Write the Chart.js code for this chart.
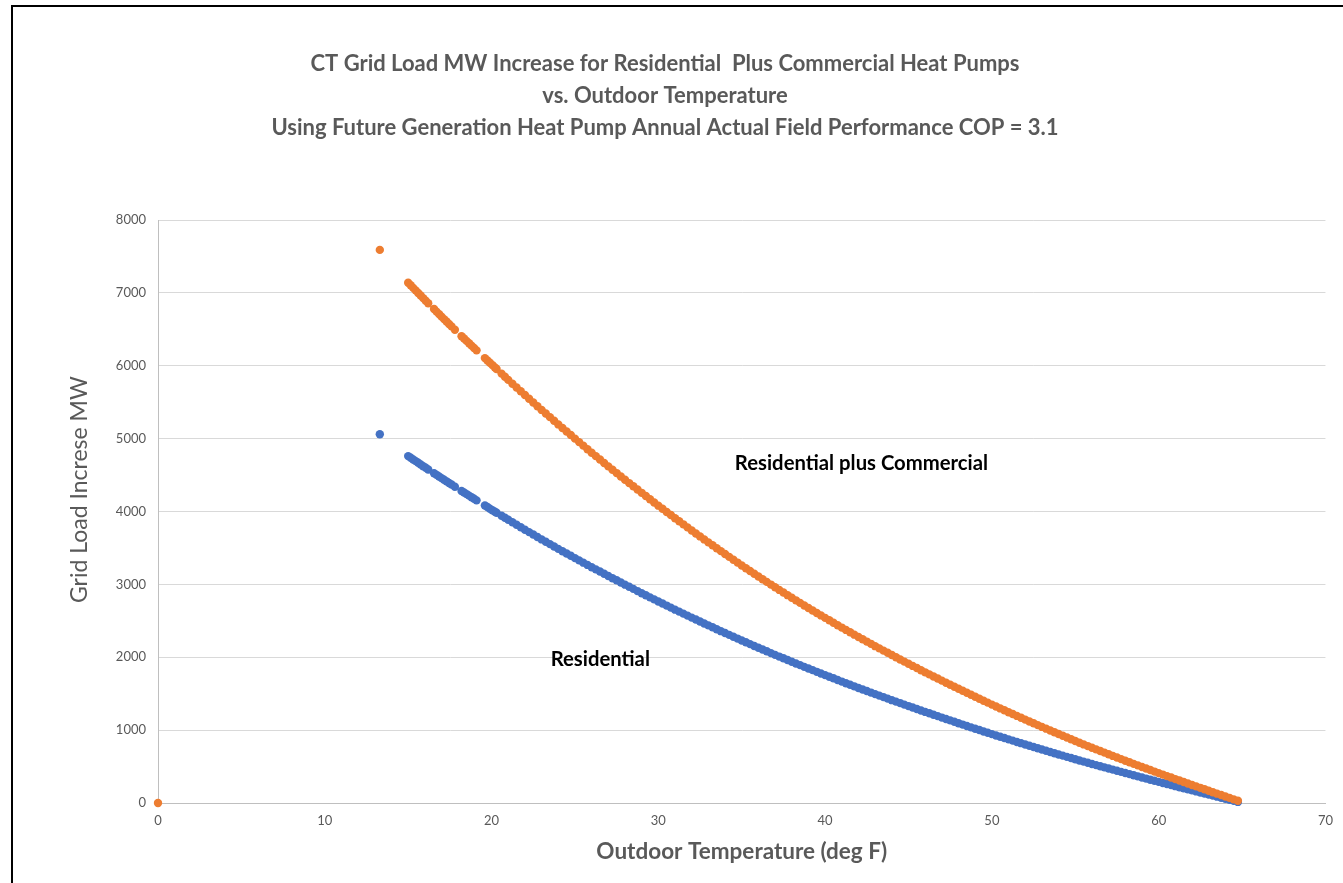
<!DOCTYPE html>
<html>
<head>
<meta charset="utf-8">
<title>CT Grid Load MW Increase vs Outdoor Temperature</title>
<script src="https://cdn.jsdelivr.net/npm/chart.js@4.4.1/dist/chart.umd.min.js"></script>
<style>
  html, body { margin: 0; padding: 0; background: #fff; overflow: hidden; }
  #frame { position: absolute; left: 11px; top: 5px; width: 1400px; height: 940px; border: 2px solid #000; }
  #wrap { position: absolute; left: 0; top: 0; width: 1343px; height: 883px; }
</style>
</head>
<body>
<div id="frame"></div>
<div id="wrap"><canvas id="chart"></canvas></div>
<script>
// Outdoor temperature (deg F) of each hourly reading, shared by both series
const temps = [13.3,
    15, 15.15, 15.3, 15.45, 15.6, 15.75, 15.9, 16.05, 16.2,
    16.55, 16.7, 16.85, 17, 17.15, 17.3, 17.45, 17.6, 17.8,
    18.2, 18.35, 18.5, 18.65, 18.8, 18.95, 19.1,
    19.6, 19.75, 19.9, 20.05, 20.2, 20.3,
    20.6, 20.8,
    21, 21.25, 21.5, 21.75, 22, 22.25, 22.5, 22.75, 23, 23.25, 23.5, 23.75,
    24, 24.25, 24.5, 24.75, 25, 25.25, 25.5, 25.75, 26, 26.25, 26.5, 26.75,
    27, 27.25, 27.5, 27.75, 28, 28.25, 28.5, 28.75, 29, 29.25, 29.5, 29.75,
    30, 30.25, 30.5, 30.75, 31, 31.25, 31.5, 31.75, 32, 32.25, 32.5, 32.75,
    33, 33.25, 33.5, 33.75, 34, 34.25, 34.5, 34.75, 35, 35.25, 35.5, 35.75,
    36, 36.25, 36.5, 36.75, 37, 37.25, 37.5, 37.75, 38, 38.25, 38.5, 38.75,
    39, 39.25, 39.5, 39.75, 40, 40.25, 40.5, 40.75, 41, 41.25, 41.5, 41.75,
    42, 42.25, 42.5, 42.75, 43, 43.25, 43.5, 43.75, 44, 44.25, 44.5, 44.75,
    45, 45.25, 45.5, 45.75, 46, 46.25, 46.5, 46.75, 47, 47.25, 47.5, 47.75,
    48, 48.25, 48.5, 48.75, 49, 49.25, 49.5, 49.75, 50, 50.25, 50.5, 50.75,
    51, 51.25, 51.5, 51.75, 52, 52.25, 52.5, 52.75, 53, 53.25, 53.5, 53.75,
    54, 54.25, 54.5, 54.75, 55, 55.25, 55.5, 55.75, 56, 56.25, 56.5, 56.75,
    57, 57.25, 57.5, 57.75, 58, 58.25, 58.5, 58.75, 59, 59.25, 59.5, 59.75,
    60, 60.25, 60.5, 60.75, 61, 61.25, 61.5, 61.75, 62, 62.25, 62.5, 62.75,
    63, 63.25, 63.5, 63.75, 64, 64.25, 64.5, 64.75];

// Residential plus Commercial load increase (MW)
const combinedLoad = [7590,
    7140, 7105, 7069, 7034, 6998, 6963, 6928, 6893, 6858,
    6778, 6743, 6709, 6674, 6640, 6607, 6573, 6540, 6495,
    6406, 6374, 6341, 6309, 6276, 6243, 6211,
    6105, 6073, 6041, 6009, 5977, 5956,
    5892, 5849,
    5806, 5754, 5702, 5650, 5598, 5547, 5496, 5445, 5394, 5344, 5295, 5245,
    5195, 5146, 5098, 5049, 5000, 4952, 4904, 4855, 4807, 4760, 4713, 4666,
    4619, 4573, 4527, 4481, 4435, 4390, 4346, 4301, 4256, 4212, 4168, 4124,
    4080, 4037, 3994, 3951, 3908, 3866, 3824, 3782, 3740, 3699, 3658, 3617,
    3576, 3536, 3496, 3456, 3416, 3377, 3338, 3299, 3260, 3222, 3184, 3146,
    3108, 3071, 3034, 2997, 2960, 2924, 2888, 2852, 2816, 2781, 2746, 2711,
    2676, 2642, 2608, 2574, 2540, 2507, 2474, 2440, 2407, 2375, 2343, 2310,
    2278, 2247, 2215, 2184, 2152, 2122, 2091, 2061, 2030, 2000, 1970, 1940,
    1910, 1881, 1852, 1822, 1793, 1765, 1736, 1708, 1679, 1651, 1623, 1595,
    1567, 1540, 1512, 1485, 1457, 1430, 1404, 1377, 1350, 1324, 1298, 1272,
    1246, 1221, 1195, 1170, 1144, 1119, 1094, 1069, 1044, 1020, 995, 971,
    946, 922, 898, 874, 850, 827, 804, 781, 758, 736, 713, 691,
    668, 646, 624, 602, 580, 559, 537, 516, 494, 473, 452, 431,
    410, 390, 369, 349, 328, 308, 288, 268, 248, 228, 208, 188,
    168, 148, 128, 109, 89, 70, 50, 30];

// Residential load increase (MW)
const residentialLoad = [5060,
    4760, 4737, 4714, 4691, 4668, 4645, 4622, 4600, 4577,
    4525, 4503, 4480, 4458, 4436, 4414, 4392, 4370, 4340,
    4282, 4261, 4239, 4218, 4196, 4174, 4153,
    4082, 4061, 4039, 4018, 3997, 3983,
    3942, 3914,
    3886, 3852, 3818, 3784, 3750, 3717, 3684, 3650, 3617, 3585, 3552, 3520,
    3487, 3455, 3424, 3392, 3360, 3329, 3298, 3267, 3236, 3206, 3176, 3145,
    3115, 3085, 3056, 3026, 2996, 2967, 2938, 2908, 2879, 2851, 2822, 2794,
    2765, 2737, 2709, 2681, 2653, 2626, 2599, 2571, 2544, 2517, 2491, 2464,
    2437, 2411, 2385, 2358, 2332, 2307, 2281, 2256, 2230, 2205, 2180, 2155,
    2130, 2106, 2082, 2057, 2033, 2009, 1986, 1962, 1938, 1915, 1892, 1868,
    1845, 1823, 1800, 1778, 1755, 1733, 1711, 1688, 1666, 1644, 1623, 1601,
    1579, 1558, 1537, 1515, 1494, 1473, 1453, 1432, 1411, 1391, 1371, 1350,
    1330, 1310, 1290, 1270, 1250, 1231, 1211, 1192, 1172, 1153, 1134, 1114,
    1095, 1076, 1057, 1038, 1019, 1001, 982, 964, 945, 927, 909, 891,
    873, 856, 838, 821, 803, 786, 769, 751, 734, 717, 700, 683,
    666, 650, 633, 617, 600, 584, 568, 552, 536, 520, 505, 489,
    473, 458, 442, 427, 411, 396, 381, 365, 350, 335, 320, 305,
    290, 275, 261, 246, 231, 217, 202, 188, 173, 159, 144, 130,
    115, 101, 87, 72, 58, 44, 29, 15];

// the lone zero reading of the combined series
const zeroTemps = [0];
const zeroLoad = [0];

const titleLines = [
    'CT Grid Load MW Increase for Residential  Plus Commercial Heat Pumps',
    'vs. Outdoor Temperature',
    'Using Future Generation Heat Pump Annual Actual Field Performance COP = 3.1'
];

// text labels placed in data coordinates
const curveLabels = [
    { text: 'Residential plus Commercial', x: 42.18, y: 4665 },
    { text: 'Residential', x: 26.52, y: 1965 }
];

const grey = '#595959';
const fontFamily = 'Lato, "Noto Sans", sans-serif';

function toPoints(xs, ys) {
    return xs.map((x, i) => ({ x: x, y: ys[i] }));
}

const curveLabelPlugin = {
    id: 'curveLabels',
    afterDatasetsDraw(chart) {
        const ctx = chart.ctx;
        const xs = chart.scales.x, ys = chart.scales.y;
        ctx.save();
        ctx.font = 'bold 20.3px ' + fontFamily;
        ctx.fillStyle = '#000';
        ctx.textAlign = 'center';
        ctx.textBaseline = 'middle';
        curveLabels.forEach(l => {
            ctx.fillText(l.text, xs.getPixelForValue(l.x), ys.getPixelForValue(l.y));
        });

        // y axis title, sits a bit above the middle of the axis like the original
        ctx.font = '23px ' + fontFamily;
        ctx.fillStyle = grey;
        ctx.translate(80, ys.getPixelForValue(4300));
        ctx.rotate(-Math.PI / 2);
        ctx.fillText('Grid Load Increse MW', 0, 0);
        ctx.restore();
    }
};

new Chart(document.getElementById('chart'), {
    type: 'scatter',
    data: {
        datasets: [{
            label: 'Residential plus Commercial',
            data: toPoints(zeroTemps, zeroLoad).concat(toPoints(temps, combinedLoad)),
            backgroundColor: '#ED7D31',
            borderWidth: 0,
            pointRadius: 4.2,
            clip: false
        }, {
            label: 'Residential',
            data: toPoints(temps, residentialLoad),
            backgroundColor: '#4472C4',
            borderWidth: 0,
            pointRadius: 4.2,
            clip: false
        }]
    },
    options: {
        responsive: true,
        maintainAspectRatio: false,
        animation: false,
        layout: { padding: { left: 0, right: 13, top: 0, bottom: 0 } },
        plugins: {
            legend: { display: false },
            tooltip: { enabled: false },
            title: {
                display: true,
                text: titleLines,
                color: grey,
                font: { family: fontFamily, size: 22, weight: 'bold', lineHeight: 32 / 22 },
                padding: { top: 48, bottom: 76 }
            }
        },
        scales: {
            x: {
                type: 'linear',
                min: 0,
                max: 70,
                ticks: { stepSize: 10, color: grey, padding: 10, font: { family: fontFamily, size: 13 } },
                grid: { display: false, drawTicks: false },
                border: { display: true, color: '#bfbfbf', width: 1 },
                title: {
                    display: true,
                    text: 'Outdoor Temperature (deg F)',
                    color: grey,
                    font: { family: fontFamily, size: 22.5, weight: 'bold', lineHeight: 1.2 },
                    padding: { top: 0, bottom: 18 }
                },
                afterFit(scale) { scale.height = 80; }
            },
            y: {
                min: 0,
                max: 8000,
                ticks: {
                    stepSize: 1000, color: grey, padding: 12, font: { family: fontFamily, size: 13 },
                    callback: v => String(v)
                },
                grid: { color: '#d9d9d9', lineWidth: 1, drawTicks: false },
                border: { display: true, color: '#bfbfbf', width: 1 },
                afterFit(scale) { scale.width = 158; }
            }
        }
    },
    plugins: [curveLabelPlugin]
});
</script>
</body>
</html>
